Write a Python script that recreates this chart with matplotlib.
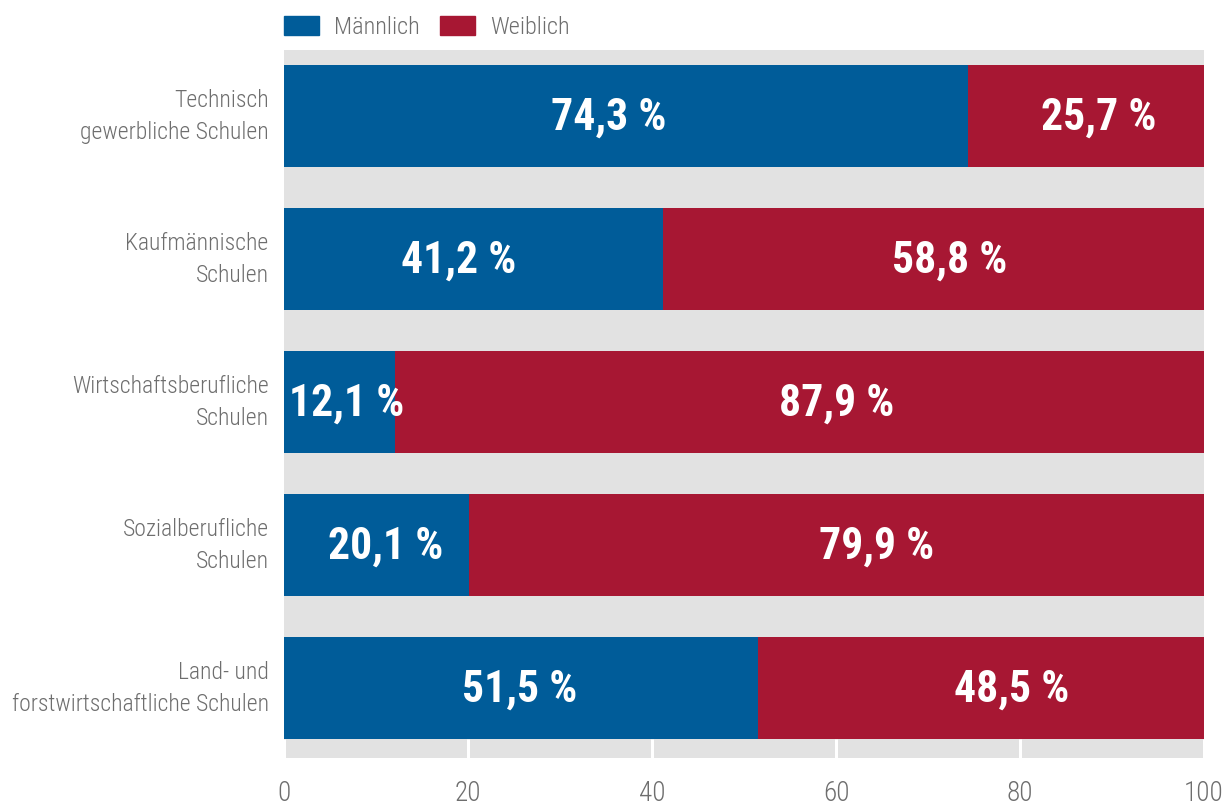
import numpy as np
import matplotlib.pyplot as plt
from matplotlib import font_manager
from matplotlib.patches import Patch

schularten = [
    "Technisch\ngewerbliche Schulen",
    "Kaufmännische\nSchulen",
    "Wirtschaftsberufliche\nSchulen",
    "Sozialberufliche\nSchulen",
    "Land- und\nforstwirtschaftliche Schulen",
]
maennlich = [74.3, 41.2, 12.1, 20.1, 51.5]
weiblich = [25.7, 58.8, 87.9, 79.9, 48.5]
x_ticks = [0, 20, 40, 60, 80, 100]

# x-Position der Beschriftungen (nicht ganz mittig gesetzt)
pos_m = [35.3, 19.0, 6.8, 11.1, 25.65]
pos_w = [88.55, 72.4, 60.1, 64.45, 79.1]

blau = "#005c99"
rot = "#a71733"
grau_bg = "#e2e2e2"
grau_txt = "#6e6e6e"

# schmale Schrift nehmen, falls vorhanden
namen = {f.name for f in font_manager.fontManager.ttflist}
schrift = "Liberation Sans"
for kandidat in ["Roboto Condensed", "Liberation Sans Narrow", "Open Sans Condensed"]:
    if kandidat in namen:
        schrift = kandidat
        break
plt.rcParams['font.family'] = [schrift, 'DejaVu Sans']
schmal = schrift != "Liberation Sans"

fig = plt.figure(figsize=(12.23, 8.05), dpi=100)
ax = fig.add_axes([284 / 1223, 1 - 758 / 805, 920 / 1223, 708 / 805])
ax.set_facecolor(grau_bg)

y = np.arange(len(schularten))
h = 0.713

ax.barh(y, maennlich, height=h, color=blau, zorder=3)
ax.barh(y, weiblich, left=maennlich, height=h, color=rot, zorder=3)

# weisse Gitterlinien nur unterhalb des letzten Balkens
ax.vlines(x_ticks, y[-1] + h / 2, y[-1] + 0.49, colors="white", lw=2.2, zorder=2)

wert_size = 31.5 if schmal else 27
for i in range(len(schularten)):
    ax.text(pos_m[i], y[i] + 0.01, f"{maennlich[i]:.1f} %".replace(".", ","),
            ha="center", va="center", color="white", fontsize=wert_size,
            fontweight="bold", zorder=4)
    ax.text(pos_w[i], y[i] + 0.01, f"{weiblich[i]:.1f} %".replace(".", ","),
            ha="center", va="center", color="white", fontsize=wert_size,
            fontweight="bold", zorder=4)

ax.set_xlim(0, 100)
ax.set_ylim(y[-1] + 0.49, -0.4615)
ax.set_xticks(x_ticks)
# Kategorienamen etwas oberhalb der Balkenmitte
ax.set_yticks(y - 0.042)
ax.set_yticklabels(schularten, fontsize=17 if schmal else 15, color=grau_txt,
                   linespacing=1.45, fontweight="light")
for t in ax.get_xticklabels():
    t.set_fontweight("light")
ax.tick_params(axis="x", labelsize=19.5, labelcolor=grau_txt, length=0, pad=16)
ax.tick_params(axis="y", length=0, pad=11)
for s in ax.spines.values():
    s.set_visible(False)

handles = [Patch(color=blau, label="Männlich"), Patch(color=rot, label="Weiblich")]
leg = ax.legend(handles=handles, loc="lower left", bbox_to_anchor=(0, 1.016), ncol=2,
                frameon=False, fontsize=17.5 if schmal else 15.5, labelcolor=grau_txt,
                handlelength=1.45, handleheight=0.8, handletextpad=0.6, columnspacing=0.85,
                borderpad=0, borderaxespad=0)
for t in leg.get_texts():
    t.set_fontweight("light")

fig.savefig("out.png", dpi=100)
